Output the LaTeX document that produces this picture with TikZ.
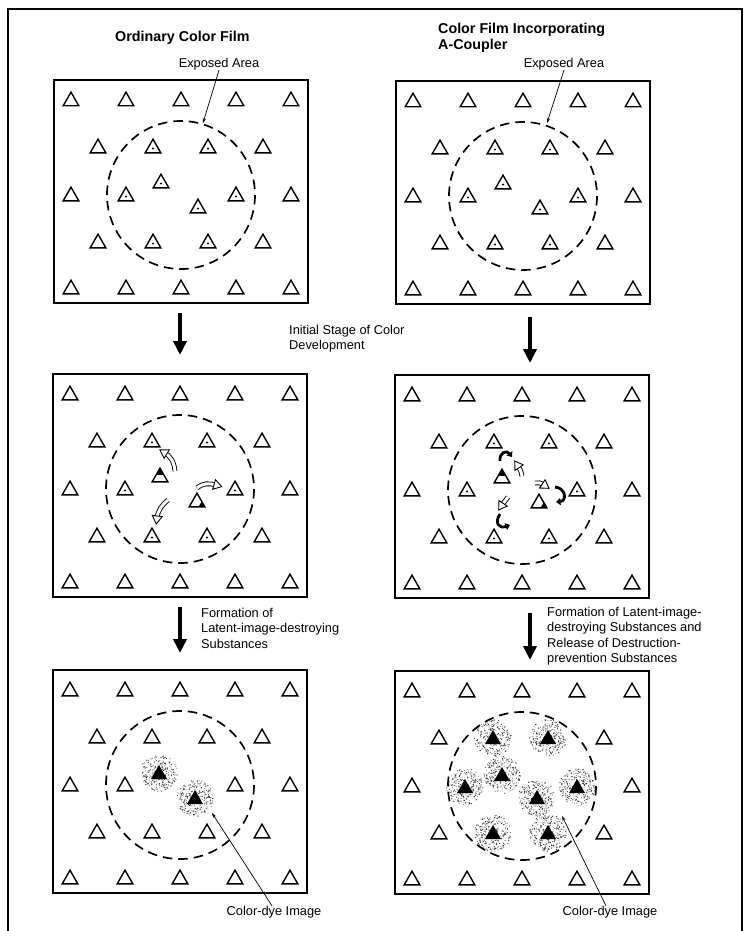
\documentclass[tikz,border=0pt]{standalone}
\usepackage{fontspec}
\setmainfont{Liberation Sans}
\usetikzlibrary{arrows.meta,decorations.markings}
\newcommand\ftri[1]{\draw[tri] (#1) ++(-7.8,5.8) -- ++(15.6,0) -- ++(-7.8,-13.6) -- cycle;}
\newcommand\dtri[1]{\ftri{#1}\fill (#1) ++(0,1.5) circle (1.1pt);}
\newcommand\toptri[1]{\ftri{#1}\fill (#1) ++(0,-7.8) -- ++(3.8,6.6) -- ++(-7.6,0) -- cycle;}
\newcommand\cornertri[1]{\ftri{#1}\fill (#1) ++(7.8,5.8) -- ++(-6.2,0) -- ++(3.1,-5.4) -- cycle;}
\newcommand\dyespot[1]{%
  \foreach \k in {1,...,260}{%
    \pgfmathsetmacro\rr{18.5*sqrt(rnd)}%
    \pgfmathsetmacro\aa{360*rnd}%
    \pgfmathsetmacro\ss{0.3+0.4*rnd}%
    \fill[black!80] (#1) ++(\aa:\rr) circle (\ss pt);}%
  \fill (#1) ++(-8,6) -- ++(16,0) -- ++(-8,-14) -- cycle;}
\newcommand\outertris{%
  \foreach \p in {{-110,-95},{-55,-95},{0,-95},{55,-95},{110,-95},{-83,-48},{82,-48},{-110,0},{110,0},{-83,47},{82,47},{-110,93},{-55,93},{0,93},{55,93},{110,93}}{\ftri{\p}}}
\newcommand\panelframe{\draw[box] (-127,-115) rectangle (127,108); \draw[expo] (0,0) circle (74);}
\newcommand\hollowarrow[1]{%
  \draw[hollowshaft] #1;
  \path[decorate, decoration={markings, mark=at position 0.999 with {\draw[hollowhead] (-2pt,-5pt) -- (6pt,0pt) -- (-2pt,5pt) -- cycle;}}] #1;}
\begin{document}
\begin{tikzpicture}[x=1pt,y=-1pt,
  tri/.style={line width=1.4pt, line join=miter},
  box/.style={line width=1.3pt},
  expo/.style={line width=1.7pt, dash pattern=on 9.5pt off 6pt},
  txt/.style={font=\fontsize{12.8}{15.5}\selectfont, inner sep=0pt, align=left},
  ttl/.style={font=\bfseries\fontsize{14.3}{16.5}\selectfont, inner sep=0pt, align=left},
  bigarrow/.style={line width=4pt, -{Triangle[length=14pt,width=13pt]}},
  leader/.style={line width=0.7pt, -{Stealth[length=5pt,width=3.2pt]}},
  hollowshaft/.style={line width=0.9pt, double=white, double distance=3pt},
  hollowhead/.style={line width=0.9pt, fill=white, line join=miter},
  hook/.style={line width=2.8pt, -{Triangle[length=4.5pt,width=7pt]}}
]
\useasboundingbox (0,0) rectangle (745,931);
\fill[white] (0,0) rectangle (745,931);
\pgfmathsetseed{7}
% outer frame
\draw[line width=1.5pt] (8,931) -- (8,9) -- (742,9) -- (742,931);

% titles
\node[ttl, anchor=base west] (t1) at (115,42) {Ordinary Color Film};
\node[ttl, anchor=base west] (t2) at (438,33.5) {Color Film Incorporating};
\node[ttl, anchor=base west] (t3) at (438,50) {A-Coupler};

% top-left panel
\begin{scope}[shift={(181,195)}]
  \panelframe \outertris
  \foreach \p in {{-28,-48},{27,-48},{-55,0},{55,0},{-28,47},{27,47},{-20,-13},{17,12}}{\dtri{\p}}
\end{scope}
% top-right panel
\begin{scope}[shift={(523,196)}]
  \panelframe \outertris
  \foreach \p in {{-28,-48},{27,-48},{-55,0},{55,0},{-28,47},{27,47},{-20,-13},{17,12}}{\dtri{\p}}
\end{scope}

\node[txt] (ea1) at (219,64) {Exposed Area};
\node[txt] (ea2) at (564,64) {Exposed Area};
\coordinate (ea1e) at (203,123);
\coordinate (ea2e) at (547,123);
\draw[leader] (ea1.south) -- (ea1e);
\draw[leader] (ea2.south) -- (ea2e);

% arrows stage 1
\coordinate (a1s) at (180,313); \coordinate (a1e) at (180,355);
\coordinate (a2s) at (530,317); \coordinate (a2e) at (530,363);
\draw[bigarrow] (a1s) -- (a1e);
\draw[bigarrow] (a2s) -- (a2e);
\node[txt, anchor=north west] (s1) at (289,325) {Initial Stage of Color\\Development};

% middle-left panel
\begin{scope}[shift={(180,489)}]
  \panelframe \outertris
  \foreach \p in {{-28,-48},{27,-48},{-55,0},{55,0},{-28,47},{27,47}}{\dtri{\p}}
  \toptri{-20,-13}
  \cornertri{17,12}
  \hollowarrow{(-5,-18) .. controls (-6,-28) and (-10,-33) .. (-15,-36)}
  \hollowarrow{(17,-1) .. controls (23,-6) and (29,-6) .. (36,-4)}
  \hollowarrow{(-12,11) .. controls (-18,16) and (-22,21) .. (-23,29)}
\end{scope}

% middle-right panel
\begin{scope}[shift={(522,490)}]
  \panelframe \outertris
  \foreach \p in {{-28,-48},{27,-48},{-55,0},{55,0},{-28,47},{27,47}}{\dtri{\p}}
  \toptri{-20,-13}
  \cornertri{17,12}
  \hollowarrow{(0,-14) .. controls (-1,-19) and (-2,-21) .. (-4,-24)}
  \hollowarrow{(13,-7) .. controls (16,-8) and (19,-7) .. (22,-5)}
  \hollowarrow{(-14,7) .. controls (-16,10) and (-18,12) .. (-20,15)}
  \draw[hook] (-22,-29) .. controls (-23,-38) and (-15,-40) .. (-10,-33);
  \draw[hook] (33,-3) .. controls (44,-2) and (45,11) .. (34,12);
  \draw[hook] (-22,24) .. controls (-28,33) and (-23,39) .. (-12,35);
\end{scope}

% arrows stage 2
\coordinate (a3s) at (180,607); \coordinate (a3e) at (180,653);
\coordinate (a4s) at (530,613); \coordinate (a4e) at (530,660);
\draw[bigarrow] (a3s) -- (a3e);
\draw[bigarrow] (a4s) -- (a4e);
\node[txt, anchor=north west] (s2) at (201,608) {Formation of\\Latent-image-destroying\\Substances};
\node[txt, anchor=north west] (s3) at (547,607) {Formation of Latent-image-\\destroying Substances and\\Release of Destruction-\\prevention Substances};

% bottom-left panel
\begin{scope}[shift={(180,785)}]
  \panelframe \outertris
  \foreach \p in {{-28,-48},{27,-48},{-55,0},{55,0},{-28,47},{27,47}}{\ftri{\p}}
  \dyespot{-21,-12}
  \dyespot{15,13}
\end{scope}

% bottom-right panel
\begin{scope}[shift={(522,786)}]
  \panelframe \outertris
  \foreach \p in {{-29,-48},{26,-48},{-57,1},{-20,-11},{15,12},{55,1},{-29,47},{26,47}}{\dyespot{\p}}
\end{scope}

\node[txt] (cd1) at (274,912) {Color-dye Image};
\node[txt] (cd2) at (610,912) {Color-dye Image};
\coordinate (cd1e) at (212,813);
\coordinate (cd2e) at (562,816);
\draw[leader] ([xshift=-2pt]cd1.north) -- (cd1e);
\draw[leader] ([xshift=-4pt]cd2.north) -- (cd2e);
\end{tikzpicture}
\end{document}
